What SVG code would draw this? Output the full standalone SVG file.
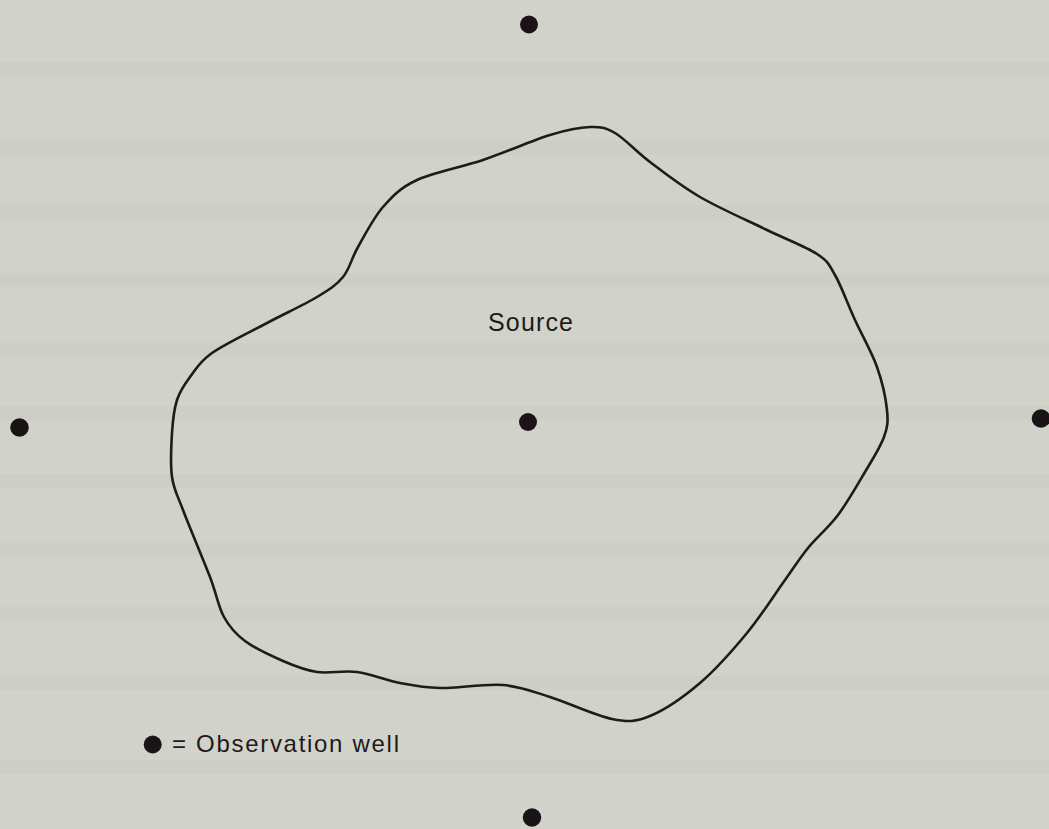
<svg xmlns="http://www.w3.org/2000/svg" width="1049" height="829" viewBox="0 0 1049 829">
<style>
.well{fill:#1b1416}
.label{font-family:"Liberation Sans",Arial,sans-serif;fill:#1e1a1a}
.band{fill:#000;opacity:0.016}
</style>
<rect x="0" y="0" width="1049" height="829" fill="#d1d3ca"/>
<g id="background-bands">
<rect class="band" x="0" y="62" width="1049" height="14"/>
<rect class="band" x="0" y="141" width="1049" height="14"/>
<rect class="band" x="0" y="205" width="1049" height="14"/>
<rect class="band" x="0" y="273" width="1049" height="14"/>
<rect class="band" x="0" y="343" width="1049" height="14"/>
<rect class="band" x="0" y="406" width="1049" height="14"/>
<rect class="band" x="0" y="474" width="1049" height="14"/>
<rect class="band" x="0" y="543" width="1049" height="14"/>
<rect class="band" x="0" y="607" width="1049" height="14"/>
<rect class="band" x="0" y="676" width="1049" height="14"/>
<rect class="band" x="0" y="760" width="1049" height="14"/>
</g>
<g id="source-boundary">
<path fill="none" stroke="#211a1a" stroke-width="2.6" stroke-linejoin="round" d="M590,127 C600.8,126.7 605,127.2 615,133 C625,138.8 635.8,151.3 650,162 C664.2,172.7 680.5,185.7 700,197 C719.5,208.3 747.5,220.5 767,230 C786.5,239.5 805.7,246.5 817,254 C828.3,261.5 828.7,264 835,275 C841.3,286 848,304.7 855,320 C862,335.3 871.7,352 877,367 C882.3,382 885.8,398.3 887,410 C888.2,421.7 887.7,426.7 884,437 C880.3,447.3 872.7,459 865,472 C857.3,485 847.5,502.3 838,515 C828.5,527.7 816.8,537.2 808,548 C799.2,558.8 795.2,565.8 785,580 C774.8,594.2 761.2,615.8 747,633 C732.8,650.2 716.2,669.2 700,683 C683.8,696.8 664.7,710 650,716 C635.3,722 628.7,722.2 612,719 C595.3,715.8 568.2,702.7 550,697 C531.8,691.3 521.3,686.5 503,685 C484.7,683.5 457.2,688.3 440,688 C422.8,687.7 413.8,685.7 400,683 C386.2,680.3 370.8,673.8 357,672 C343.2,670.2 329.3,673.8 317,672 C304.7,670.2 295,666.2 283,661 C271,655.8 254.8,648.3 245,641 C235.2,633.7 229.8,627.7 224,617 C218.2,606.3 216.8,594.8 210,577 C203.2,559.2 189.3,526.7 183,510 C176.7,493.3 173.8,489.8 172,477 C170.2,464.2 171.2,445.8 172,433 C172.8,420.2 174,409.3 177,400 C180,390.7 184.2,384.8 190,377 C195.8,369.2 199.2,362 212,353 C224.8,344 249.5,332.3 267,323 C284.5,313.7 304.3,304.7 317,297 C329.7,289.3 336.2,285.3 343,277 C349.8,268.7 351.3,258.7 358,247 C364.7,235.3 373.2,218.2 383,207 C392.8,195.8 400.3,187.8 417,180 C433.7,172.2 460.8,167.5 483,160 C505.2,152.5 532.2,140.5 550,135 C567.8,129.5 579.2,127.3 590,127 Z"/>
<text class="label" x="488" y="331" font-size="25" textLength="85" lengthAdjust="spacing">Source</text>
</g>
<g id="well-top"><circle class="well" cx="529" cy="24.5" r="9"/></g>
<g id="well-left"><circle class="well" cx="19.5" cy="427.5" r="9.3"/></g>
<g id="well-center"><circle class="well" cx="528" cy="422" r="9"/></g>
<g id="well-right"><circle class="well" cx="1041" cy="418.5" r="9.3"/></g>
<g id="well-bottom"><circle class="well" cx="532" cy="817.5" r="9.2"/></g>
<g id="legend">
<circle class="well" cx="152.7" cy="744.5" r="9"/>
<text class="label" x="172" y="752" font-size="24" textLength="227" lengthAdjust="spacing">= Observation well</text>
</g>
<g id="connectors"/>
</svg>
